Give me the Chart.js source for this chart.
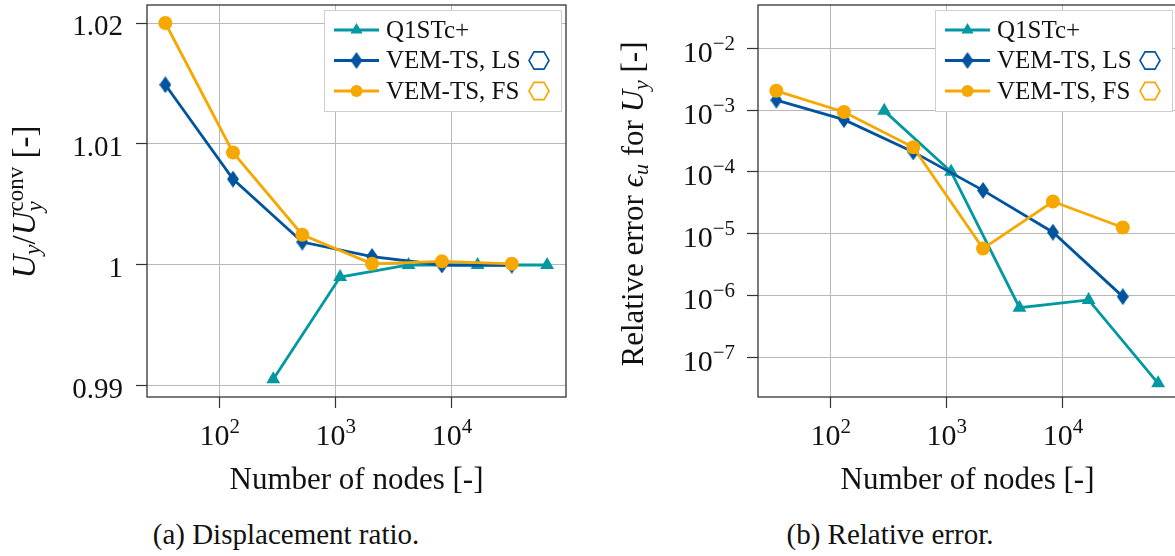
<!DOCTYPE html>
<html>
<head>
<meta charset="utf-8">
<script src="https://cdn.jsdelivr.net/npm/chart.js@4.4.1/dist/chart.umd.min.js"></script>
<style>
  body { margin: 0; background: #fff; width: 1175px; height: 556px; overflow: hidden; position: relative; }
  canvas { position: absolute; top: 0; }
  #c1 { left: 0; }
  #c2 { left: 590px; }
  .cap { position: absolute; top: 518px; width: 500px; text-align: center; font: 29px/33px "Liberation Serif", serif; color: #111; }
</style>
</head>
<body>
<canvas id="c1" width="590" height="500"></canvas>
<canvas id="c2" width="590" height="500"></canvas>
<div class="cap" style="left:36px">(a) Displacement ratio.</div>
<div class="cap" style="left:640px">(b) Relative error.</div>
<script>
// data
const seriesNames = ['Q1STc+', 'VEM-TS, LS', 'VEM-TS, FS'];
const nodesQ1 = [289, 1089, 4225, 16641, 66049];
const nodesVem = [34, 130, 514, 2050, 8194, 32770];

const ratioQ1 = [0.99055, 0.9990, 1.0000, 1.0000, 1.0000];
const ratioLS = [1.0149, 1.0071, 1.0019, 1.0007, 1.0000, 0.99998];
const ratioFS = [1.0200, 1.0093, 1.0025, 1.0001, 1.0003, 1.0001];

const errQ1 = [9.7e-4, 1.0e-4, 6.3e-7, 8.4e-7, 3.75e-8];
const errLS = [1.45e-3, 7.0e-4, 2.1e-4, 5.0e-5, 1.05e-5, 9.5e-7];
const errFS = [2.05e-3, 9.3e-4, 2.5e-4, 5.7e-6, 3.3e-5, 1.25e-5];

const xTicks = [100, 1000, 10000];
const ratioTicks = [0.99, 1, 1.01, 1.02];
const ratioTickLabels = ['0.99', '1', '1.01', '1.02'];
const errTicks = [1e-7, 1e-6, 1e-5, 1e-4, 1e-3, 1e-2];

const TEAL = '#0098A1', BLUE = '#00549F', ORANGE = '#F6A800';
const GRID = '#b8b8b8', AXIS = '#333333', INK = '#111111';
const SERIF = '"Liberation Serif", "DejaVu Serif", serif';

// tall diamond marker
const diamond = document.createElement('canvas');
diamond.width = 12; diamond.height = 17;
(function () {
    const d = diamond.getContext('2d');
    d.fillStyle = BLUE;
    d.beginPath();
    d.moveTo(6, 0); d.lineTo(12, 8.5); d.lineTo(6, 17); d.lineTo(0, 8.5);
    d.closePath(); d.fill();
})();

function makeDatasets(q1, ls, fs) {
    const common = { borderWidth: 2.8, tension: 0, pointBorderWidth: 0, fill: false, clip: false };
    return [
        Object.assign({}, common, { label: seriesNames[0], data: nodesQ1.map((n, i) => ({ x: n, y: q1[i] })),
            borderColor: TEAL, backgroundColor: TEAL, pointStyle: 'triangle', pointRadius: 8, order: 3 }),
        Object.assign({}, common, { label: seriesNames[1], data: nodesVem.map((n, i) => ({ x: n, y: ls[i] })),
            borderColor: BLUE, backgroundColor: BLUE, pointStyle: diamond, pointRadius: 8, order: 2 }),
        Object.assign({}, common, { label: seriesNames[2], data: nodesVem.map((n, i) => ({ x: n, y: fs[i] })),
            borderColor: ORANGE, backgroundColor: ORANGE, pointStyle: 'circle', pointRadius: 7, order: 1 })
    ];
}

// text made of pieces (sub/superscripts), centred along its direction
function drawRuns(ctx, runs, x, y, rot) {
    ctx.save();
    ctx.translate(x, y);
    ctx.rotate(rot);
    ctx.textBaseline = 'alphabetic';
    ctx.textAlign = 'left';
    ctx.fillStyle = INK;
    let total = 0;
    runs.forEach(r => { ctx.font = r.font; r.w = ctx.measureText(r.t).width; if (!r.stay) total += r.w; });
    let cx = -total / 2;
    runs.forEach(r => { ctx.font = r.font; ctx.fillText(r.t, cx, r.dy || 0); if (!r.stay) cx += r.w; });
    ctx.restore();
}

function powLabel(ctx, exp, x, y, mode) {
    const base = '10', sup = exp < 0 ? '\u2212' + Math.abs(exp) : String(exp);
    ctx.font = '30px ' + SERIF;
    const wb = ctx.measureText(base).width;
    ctx.font = '21px ' + SERIF;
    const ws = ctx.measureText(sup).width;
    const left = mode === 'center' ? x - (wb + ws) / 2 : x - wb - ws;
    ctx.textAlign = 'left';
    ctx.textBaseline = 'alphabetic';
    ctx.fillStyle = INK;
    ctx.font = '30px ' + SERIF;
    ctx.fillText(base, left, y);
    ctx.font = '21px ' + SERIF;
    ctx.fillText(sup, left + wb, y - 12);
}

function hexagon(ctx, cx, cy, r, color) {
    ctx.save();
    ctx.strokeStyle = color;
    ctx.lineWidth = 1.6;
    ctx.beginPath();
    for (let k = 0; k < 6; k++) {
        const a = k * Math.PI / 3;
        const px = cx + r * Math.cos(a), py = cy + r * Math.sin(a);
        k ? ctx.lineTo(px, py) : ctx.moveTo(px, py);
    }
    ctx.closePath();
    ctx.stroke();
    ctx.restore();
}

function drawLegend(chart) {
    const ctx = chart.ctx, a = chart.chartArea;
    const w = 237, h = 101;
    const bx = a.right - 5 - w, by = a.top + 5;
    ctx.save();
    ctx.fillStyle = '#fff';
    ctx.strokeStyle = '#cfcfcf';
    ctx.lineWidth = 1;
    ctx.fillRect(bx, by, w, h);
    ctx.strokeRect(bx + 0.5, by + 0.5, w, h);
    chart.data.datasets.forEach((ds, i) => {
        const y = by + 20 + i * 30.5;
        ctx.strokeStyle = ds.borderColor;
        ctx.lineWidth = 2.8;
        ctx.beginPath(); ctx.moveTo(bx + 10, y); ctx.lineTo(bx + 55, y); ctx.stroke();
        ctx.fillStyle = ds.backgroundColor;
        Chart.helpers.drawPoint(ctx, { pointStyle: ds.pointStyle, radius: ds.pointRadius - 1, rotation: 0, borderWidth: 0 }, bx + 32.5, y);
        ctx.fillStyle = INK;
        ctx.font = '25px ' + SERIF;
        ctx.textAlign = 'left';
        ctx.textBaseline = 'middle';
        ctx.fillText(ds.label, bx + 62, y + 1);
        if (i > 0) hexagon(ctx, bx + 215, y, 10, ds.borderColor);
    });
    ctx.restore();
}

const framePlugin = {
    id: 'frame',
    beforeDatasetsDraw(chart) {
        const ctx = chart.ctx, a = chart.chartArea;
        ctx.save();
        ctx.strokeStyle = AXIS;
        ctx.lineWidth = 1.3;
        ctx.strokeRect(a.left, a.top, a.right - a.left, a.bottom - a.top);
        ctx.restore();
    }
};

const decorPlugin = {
    id: 'decor',
    afterDraw(chart, args, opts) {
        const ctx = chart.ctx, a = chart.chartArea;
        const xs = chart.scales.x, ys = chart.scales.y;
        xs.ticks.forEach(t => powLabel(ctx, Math.round(Math.log10(t.value)), xs.getPixelForValue(t.value), 445, 'center'));
        ys.ticks.forEach((t, i) => {
            const py = ys.getPixelForValue(t.value);
            if (opts.logY) {
                powLabel(ctx, Math.round(Math.log10(t.value)), a.left - 23, py + 13.5, 'right');
            } else {
                ctx.save();
                ctx.fillStyle = INK;
                ctx.font = '29px ' + SERIF;
                ctx.textAlign = 'right';
                ctx.textBaseline = 'alphabetic';
                ctx.fillText(opts.yLabels[i], a.left - 24, py + 12);
                ctx.restore();
            }
        });
        drawRuns(ctx, opts.titleRuns, opts.titleX, opts.titleY, -Math.PI / 2);
        drawLegend(chart);
    }
};

function xScale() {
    return {
        type: 'logarithmic',
        min: 23.63, max: 96050,
        afterBuildTicks: s => { s.ticks = xTicks.map(v => ({ value: v })); },
        afterFit: s => { s.height = 103; },
        ticks: { display: false },
        grid: { color: GRID, lineWidth: 1, tickColor: AXIS, tickLength: 11, tickWidth: 1.2 },
        border: { display: false },
        title: { display: true, text: 'Number of nodes [-]', color: INK,
                 font: { family: SERIF, size: 31 }, padding: { top: 0, bottom: 1 } }
    };
}

const F = 33, f = 23;
const leftTitle = [
    { t: 'U', font: 'italic ' + F + 'px ' + SERIF },
    { t: 'y', font: 'italic ' + f + 'px ' + SERIF, dy: 5 },
    { t: '/', font: F + 'px ' + SERIF },
    { t: 'U', font: 'italic ' + F + 'px ' + SERIF },
    { t: 'y', font: 'italic ' + f + 'px ' + SERIF, dy: 7, stay: true },
    { t: 'conv', font: f + 'px ' + SERIF, dy: -12 },
    { t: ' [-]', font: F + 'px ' + SERIF }
];
const rightTitle = [
    { t: 'Relative error ', font: '31px ' + SERIF },
    { t: '\u03f5', font: 'italic 31px ' + SERIF },
    { t: 'u', font: 'italic 22px ' + SERIF, dy: 5 },
    { t: ' for ', font: '31px ' + SERIF },
    { t: 'U', font: 'italic 31px ' + SERIF },
    { t: 'y', font: 'italic 22px ' + SERIF, dy: 5 },
    { t: ' [-]', font: '31px ' + SERIF }
];

new Chart(document.getElementById('c1'), {
    type: 'line',
    data: { datasets: makeDatasets(ratioQ1, ratioLS, ratioFS) },
    plugins: [framePlugin, decorPlugin],
    options: {
        responsive: false,
        animation: false,
        layout: { autoPadding: false, padding: { top: 5, right: 24, left: 0, bottom: 0 } },
        plugins: {
            legend: { display: false },
            tooltip: { enabled: false },
            decor: { logY: false, yLabels: ratioTickLabels, titleRuns: leftTitle, titleX: 35, titleY: 202 }
        },
        scales: {
            x: xScale(),
            y: {
                type: 'linear',
                min: 0.98909, max: 1.021488,
                afterBuildTicks: s => { s.ticks = ratioTicks.map(v => ({ value: v })); },
                afterFit: s => { s.width = 147; },
                ticks: { display: false },
                grid: { color: GRID, lineWidth: 1, tickColor: AXIS, tickLength: 11, tickWidth: 1.2 },
                border: { display: false }
            }
        }
    }
});

new Chart(document.getElementById('c2'), {
    type: 'line',
    data: { datasets: makeDatasets(errQ1, errLS, errFS) },
    plugins: [framePlugin, decorPlugin],
    options: {
        responsive: false,
        animation: false,
        layout: { autoPadding: false, padding: { top: 5, right: 3, left: 0, bottom: 0 } },
        plugins: {
            legend: { display: false },
            tooltip: { enabled: false },
            decor: { logY: true, titleRuns: rightTitle, titleX: 53, titleY: 204 }
        },
        scales: {
            x: xScale(),
            y: {
                type: 'logarithmic',
                min: 2.25e-8, max: 0.0503,
                afterBuildTicks: s => { s.ticks = errTicks.map(v => ({ value: v })); },
                afterFit: s => { s.width = 168; },
                ticks: { display: false },
                grid: { color: GRID, lineWidth: 1, tickColor: AXIS, tickLength: 11, tickWidth: 1.2 },
                border: { display: false }
            }
        }
    }
});
</script>
</body>
</html>
